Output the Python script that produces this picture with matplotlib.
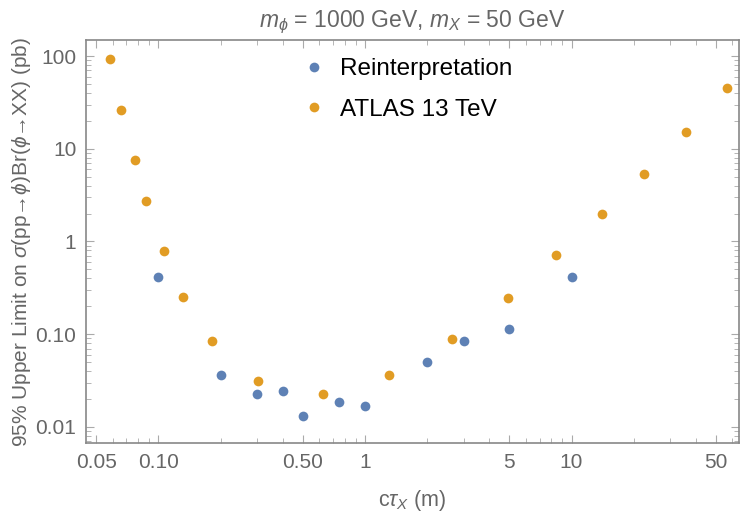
import matplotlib
matplotlib.use('Agg')
import matplotlib.pyplot as plt
from matplotlib.ticker import FixedLocator, FixedFormatter, LogLocator, NullFormatter

plt.rcParams['font.family'] = ['Liberation Sans', 'DejaVu Sans']
plt.rcParams['mathtext.fontset'] = 'custom'
plt.rcParams['mathtext.rm'] = 'Liberation Sans'
plt.rcParams['mathtext.it'] = 'Liberation Sans:italic'

# reinterpretation limits
reint_ctau = [0.1, 0.2, 0.3, 0.4, 0.5, 0.75, 1.0, 2.0, 3.0, 5.0, 10.0]
reint_lim = [0.418, 0.0367, 0.0229, 0.0241, 0.0130, 0.0186, 0.0167, 0.050, 0.0836, 0.115, 0.418]

# ATLAS 13 TeV limits
atlas_ctau = [0.0582, 0.066, 0.0769, 0.0867, 0.1067, 0.1315, 0.182, 0.303, 0.624,
              1.31, 2.64, 4.93, 8.4, 14.05, 22.4, 35.8, 56.6]
atlas_lim = [92.8, 26.5, 7.64, 2.71, 0.78, 0.25, 0.0836, 0.0314, 0.0229,
             0.0367, 0.0894, 0.248, 0.706, 2.0, 5.3, 15.1, 44.8]

xticks = [0.05, 0.1, 0.5, 1, 5, 10, 50]
xticklabels = ['0.05', '0.10', '0.50', '1', '5', '10', '50']
yticks = [0.01, 0.1, 1, 10, 100]
yticklabels = ['0.01', '0.10', '1', '10', '100']

blue = '#5E81B5'
orange = '#E19C24'
grey = '#666666'

fig = plt.figure(figsize=(7.5, 5.19), dpi=100)
ax = fig.add_axes([0.1147, 0.1464, 0.8706, 0.7765])

ax.plot(reint_ctau, reint_lim, 'o', color=blue, ms=7, mec='none', label='Reinterpretation')
ax.plot(atlas_ctau, atlas_lim, 'o', color=orange, ms=7, mec='none', label='ATLAS 13 TeV')

ax.set_xscale('log')
ax.set_yscale('log')
ax.set_xlim(0.0446, 64.7)
ax.set_ylim(0.0067, 149)

ax.xaxis.set_major_locator(FixedLocator(xticks))
ax.xaxis.set_major_formatter(FixedFormatter(xticklabels))
ax.yaxis.set_major_locator(FixedLocator(yticks))
ax.yaxis.set_major_formatter(FixedFormatter(yticklabels))
ax.xaxis.set_minor_locator(LogLocator(base=10, subs=range(1, 10)))
ax.yaxis.set_minor_locator(LogLocator(base=10, subs=range(1, 10)))
ax.xaxis.set_minor_formatter(NullFormatter())
ax.yaxis.set_minor_formatter(NullFormatter())

ax.tick_params(which='both', direction='in', top=True, right=True, color='#aaaaaa')
ax.tick_params(which='major', length=6, width=0.8, labelsize=15, labelcolor=grey, pad=7)
ax.tick_params(which='minor', length=3.5, width=0.6)
for s in ax.spines.values():
    s.set_color('#888888')
    s.set_linewidth(1.2)

ax.set_title(r'$m_\phi$ = 1000 GeV, $m_X$ = 50 GeV', fontsize=16.5, color=grey, pad=9)
ax.set_xlabel(r'c$\tau_X$ (m)', fontsize=15.5, color=grey, labelpad=12)
ax.set_ylabel('95% Upper Limit on $\\sigma$(pp\u2192$\\phi$)Br($\\phi$\u2192XX) (pb)',
              fontsize=15, color=grey, labelpad=2)

ax.legend(loc='upper left', bbox_to_anchor=(0.303, 1.0), frameon=False, fontsize=17.5,
          handletextpad=0.55, labelspacing=0.75, handlelength=1.0, borderaxespad=0.35)

fig.savefig('out.png', dpi=100)
